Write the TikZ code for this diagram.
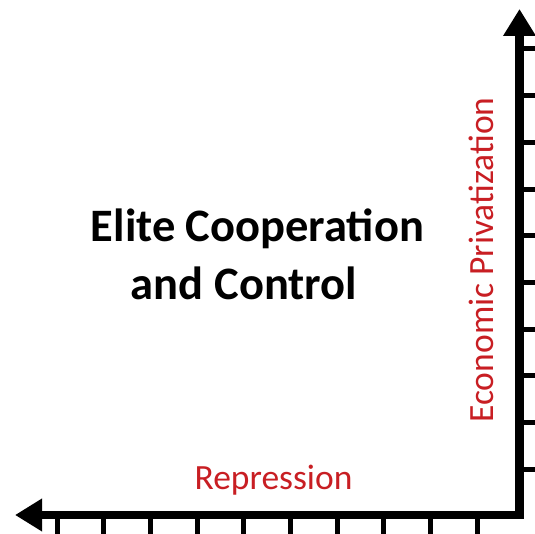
\documentclass[tikz,border=0pt]{standalone}
\usepackage{fontspec}
\setmainfont{Carlito}
\usetikzlibrary{arrows.meta}

\definecolor{labelred}{RGB}{200,30,35}

\begin{document}
\begin{tikzpicture}[x=1pt,y=-1pt]
	\tikzset{axis/.style={line width=8.5pt,line join=miter,{Triangle[length=27pt,width=31pt]}-{Triangle[length=27pt,width=31pt]}},
		tick/.style={line width=5pt},
		axislabel/.style={text=labelred,font=\fontsize{35.5}{40}\selectfont,anchor=base,inner sep=0pt},
		titletext/.style={font=\fontsize{46.5}{54}\selectfont\bfseries,anchor=base,inner sep=0pt}}
	
	% Frame of the picture
	\useasboundingbox (0,0) rectangle (535,534);
	
	% Set the gap between ticks
	\def\tickgap{46.7}
	
	% Corner and ends of the axes
	\coordinate (origin) at (519.5,515);
	\coordinate (leftend) at (15,515);
	\coordinate (topend) at (519.5,9);
	
	% Ticks on the vertical axis
	\foreach \i in {0,...,9}
	{
		\draw[tick] (519.5,49+\i*\tickgap) -- (540,49+\i*\tickgap);
	}
	
	% Ticks on the horizontal axis
	\foreach \i in {0,...,9}
	{
		\draw[tick] (57+\i*\tickgap,515) -- (57+\i*\tickgap,540);
	}
	
	% Both axes in one path
	\draw[axis] (leftend) -- (origin) -- (topend);
	
	% Axis labels
	\node[axislabel] (repression) at (273.5,489) {Repression};
	\node[axislabel,rotate=90] (privatization) at (493,260) {Economic Privatization};
	
	% Title in the middle
	\node[titletext] (titleone) at (257.5,242) {Elite Cooperation};
	\node[titletext] (titletwo) at (244,300) {and Control};
	
\end{tikzpicture}
\end{document}
